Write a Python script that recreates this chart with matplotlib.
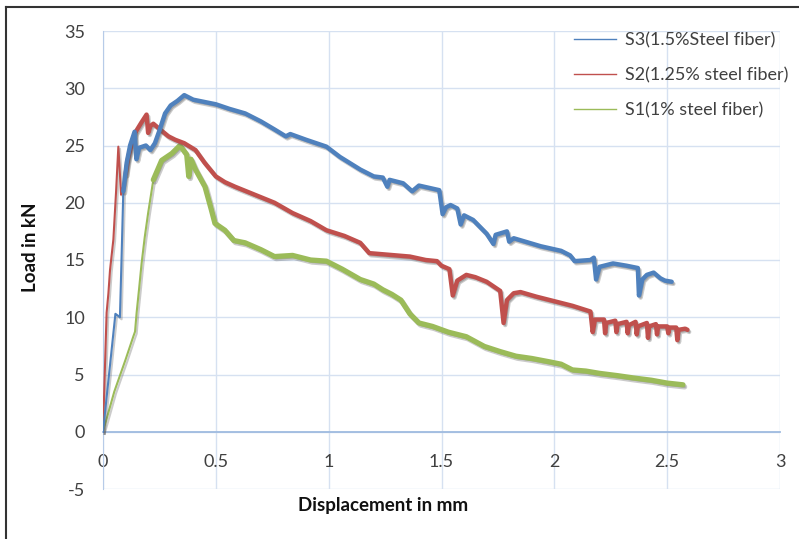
import matplotlib

matplotlib.use("Agg")
import matplotlib.patheffects as pe
import matplotlib.pyplot as plt
from matplotlib.lines import Line2D

# Load-displacement curves
s3_x = [0, 0.055, 0.062, 0.075, 0.082, 0.09, 0.105, 0.12, 0.14, 0.148, 0.16, 0.19, 0.21,
        0.23, 0.25, 0.275, 0.30, 0.33, 0.36, 0.40, 0.45, 0.50, 0.56, 0.63, 0.70, 0.76,
        0.81, 0.83, 0.90, 0.99, 1.05, 1.14, 1.20, 1.24, 1.26, 1.27, 1.33, 1.37, 1.40,
        1.49, 1.505, 1.52, 1.54, 1.57, 1.585, 1.60, 1.64, 1.70, 1.73, 1.74, 1.79, 1.80,
        1.82, 1.94, 2.03, 2.07, 2.09, 2.16, 2.175, 2.185, 2.20, 2.26, 2.32, 2.37, 2.375,
        2.39, 2.41, 2.44, 2.47, 2.49, 2.52]
s3_y = [0, 10.3, 10.2, 10.0, 15.0, 21.0, 23.5, 25.0, 26.2, 23.8, 24.8, 25.0, 24.6,
        25.2, 26.3, 27.8, 28.5, 28.9, 29.4, 29.0, 28.8, 28.6, 28.2, 27.8, 27.1, 26.4,
        25.8, 26.0, 25.5, 24.9, 24.0, 22.9, 22.3, 22.2, 21.4, 22.0, 21.7, 21.0, 21.5,
        21.1, 19.0, 19.6, 19.8, 19.5, 18.1, 18.9, 18.5, 17.3, 16.4, 17.2, 17.5, 16.6,
        16.9, 16.2, 15.8, 15.4, 14.9, 15.0, 15.2, 13.3, 14.4, 14.7, 14.5, 14.3, 11.9,
        13.3, 13.7, 13.9, 13.4, 13.2, 13.1]

s2_x = [0, 0.016, 0.024, 0.031, 0.046, 0.058, 0.068, 0.075, 0.08, 0.09, 0.10, 0.112,
        0.13, 0.142, 0.17, 0.193, 0.20, 0.21, 0.223, 0.253, 0.29, 0.32, 0.36, 0.41,
        0.45, 0.50, 0.54, 0.585, 0.66, 0.76, 0.84, 0.92, 0.99, 1.07, 1.14, 1.18, 1.24,
        1.30, 1.36, 1.43, 1.48, 1.50, 1.535, 1.55, 1.57, 1.61, 1.65, 1.70, 1.76, 1.775,
        1.79, 1.82, 1.85, 1.92, 2.00, 2.08, 2.16, 2.17, 2.18, 2.22, 2.225, 2.23, 2.27,
        2.275, 2.28, 2.32, 2.325, 2.33, 2.36, 2.365, 2.37, 2.41, 2.415, 2.42, 2.45,
        2.455, 2.46, 2.50, 2.505, 2.51, 2.54, 2.545, 2.55, 2.58, 2.59]
s2_y = [0, 10.4, 12.1, 14.1, 16.8, 21.0, 24.9, 22.5, 20.7, 21.5, 22.5, 24.0,
        25.3, 26.1, 27.0, 27.7, 26.1, 26.7, 26.9, 26.4, 25.8, 25.5, 25.2, 24.6,
        23.5, 22.3, 21.8, 21.4, 20.8, 20.0, 19.1, 18.4, 17.6, 17.1, 16.5, 15.6, 15.5,
        15.4, 15.3, 15.0, 14.9, 14.5, 14.2, 11.9, 13.2, 13.7, 13.5, 13.1, 12.3, 9.5,
        11.5, 12.1, 12.2, 11.8, 11.4, 11.0, 10.5, 8.7, 9.8, 9.8, 8.6, 9.5, 9.7,
        8.7, 9.4, 9.6, 8.6, 9.3, 9.6, 8.5, 9.2, 9.5, 8.2, 9.2, 9.4,
        8.5, 9.2, 9.2, 8.6, 9.1, 9.1, 8.0, 8.9, 9.0, 8.9]

s1_x = [0, 0.05, 0.10, 0.134, 0.142, 0.149, 0.16, 0.171, 0.185, 0.20, 0.223, 0.26,
        0.305, 0.341, 0.371, 0.38, 0.39, 0.41, 0.452, 0.48, 0.496, 0.54, 0.58, 0.63,
        0.70, 0.76, 0.84, 0.92, 0.99, 1.06, 1.14, 1.20, 1.24, 1.28, 1.32, 1.36, 1.40,
        1.46, 1.53, 1.61, 1.69, 1.76, 1.83, 1.90, 1.98, 2.03, 2.08, 2.14, 2.20, 2.28,
        2.35, 2.43, 2.50, 2.57]
s1_y = [0, 3.5, 6.3, 8.3, 8.75, 10.4, 12.5, 14.7, 17.0, 19.1, 22.0, 23.7,
        24.3, 25.0, 24.2, 22.3, 23.8, 22.9, 21.4, 19.4, 18.2, 17.6, 16.7, 16.5,
        15.9, 15.3, 15.4, 15.0, 14.9, 14.2, 13.3, 12.9, 12.4, 12.0, 11.5, 10.3, 9.5,
        9.2, 8.7, 8.3, 7.45, 7.0, 6.6, 6.4, 6.1, 5.9, 5.4, 5.3, 5.1, 4.9,
        4.7, 4.5, 4.25, 4.1]

labels = ["S3(1.5%Steel fiber)", "S2(1.25% steel fiber)", "S1(1% steel fiber)"]
colors = ["#4f81bd", "#c0504d", "#9bbb59"]
x_ticks = [0, 0.5, 1, 1.5, 2, 2.5, 3]
x_ticklabels = ["0", "0.5", "1", "1.5", "2", "2.5", "3"]
y_ticks = [-5, 0, 5, 10, 15, 20, 25, 30, 35]

plt.rcParams["font.family"] = ["Lato", "DejaVu Sans"]
plt.rcParams["axes.unicode_minus"] = False

fig = plt.figure(figsize=(7.99, 5.39), dpi=100)
ax = fig.add_axes([103 / 799, 1 - 489 / 539, 677 / 799, 458 / 539])

grid_col = "#d6e1f1"
shadow = [pe.SimpleLineShadow(offset=(1.2, -1.5), shadow_color="#555555", alpha=0.3), pe.Normal()]

series = [(s3_x, s3_y, 0.085, 3.2), (s2_x, s2_y, 0.10, 3.2), (s1_x, s1_y, 0.21, 3.8)]
# draw back to front so S3 ends up on top like in the original
for (xs, ys, start, lw), col in reversed(list(zip(series, colors))):
    ax.plot(xs, ys, color=col, lw=1.5, path_effects=shadow, zorder=3)
    noisy = [i for i, v in enumerate(xs) if v >= start]
    ax.plot([xs[i] for i in noisy], [ys[i] for i in noisy], color=col, lw=lw,
            path_effects=shadow, zorder=3, solid_capstyle="round")

ax.set_xlim(0, 3)
ax.set_ylim(-5, 35)
ax.set_xticks(x_ticks)
ax.set_xticklabels(x_ticklabels)
ax.set_yticks(y_ticks)
ax.grid(True, color=grid_col, lw=1.0, zorder=0)
ax.set_axisbelow(True)

for s in ["top", "right"]:
    ax.spines[s].set_visible(False)
ax.spines["bottom"].set_position(("data", 0))
ax.spines["bottom"].set_color("#9fbbe0")
ax.spines["bottom"].set_linewidth(1.3)
ax.spines["left"].set_color("#b7cbe8")
ax.tick_params(axis="both", length=0, labelsize=13, labelcolor="#404040")
ax.tick_params(axis="x", pad=16)
ax.tick_params(axis="y", pad=13)

fig.text(383 / 799, 1 - 505 / 539, "Displacement in mm", ha="center", va="center",
         fontsize=13.5, fontweight="bold", color="#111111")
fig.text(30 / 799, 1 - 247 / 539, "Load in kN", ha="center", va="center", rotation=90,
         fontsize=13.5, fontweight="bold", color="#111111")

handles = [Line2D([], [], color=c, lw=1.0) for c in colors]
ax.legend(handles, labels, loc="upper left", bbox_to_anchor=(558 / 799, 1 - 16 / 539),
          bbox_transform=fig.transFigure, frameon=False, fontsize=13, labelcolor="#404040",
          handlelength=2.3, handletextpad=0.5, labelspacing=1.05)

# outer frame of the original screenshot (left and top edges only)
fig.add_artist(Line2D([6 / 799, 6 / 799], [0, 1 - 7 / 539], color="#333333", lw=1.5,
                      transform=fig.transFigure))
fig.add_artist(Line2D([6 / 799, 1], [1 - 7 / 539, 1 - 7 / 539], color="#333333", lw=1.5,
                      transform=fig.transFigure))

fig.savefig("out.png", dpi=100)
